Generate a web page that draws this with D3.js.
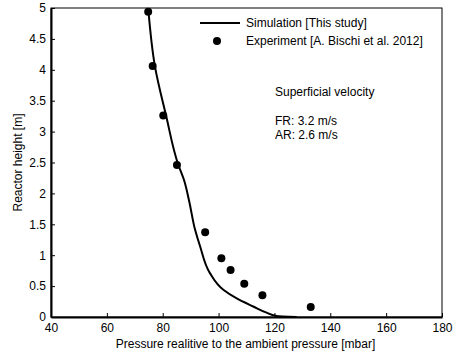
<!DOCTYPE html>
<html>
<head>
<meta charset="utf-8">
<script src="https://cdn.jsdelivr.net/npm/d3@7"></script>
<style>
  body { margin: 0; background: #fff; }
  text { font-family: "Liberation Sans", Arial, sans-serif; fill: #000; }
</style>
</head>
<body>
<div id="chart"></div>
<script>
// simulation curve (pressure [mbar], height [m])
var simPressure = [74.8, 77.2, 81.2, 85.6, 87.6, 89.4, 91.6, 93.4, 96.9, 101.7, 106.5, 112.4, 117.2, 120.8, 128.0];
var simHeight   = [5.0, 4.06, 3.26, 2.46, 2.22, 1.89, 1.41, 1.14, 0.71, 0.44, 0.30, 0.17, 0.07, 0.016, 0.0];

// experiment points
var expPressure = [74.8, 76.4, 80.2, 85.1, 95.2, 101.0, 104.3, 109.2, 115.7, 133.0];
var expHeight   = [4.94, 4.06, 3.26, 2.46, 1.37, 0.95, 0.76, 0.54, 0.35, 0.16];

var xTicks = [40, 60, 80, 100, 120, 140, 160, 180];
var yTicks = [0, 0.5, 1, 1.5, 2, 2.5, 3, 3.5, 4, 4.5, 5];

var svgWidth = 457, svgHeight = 354;
var margin = { top: 8, right: 15, bottom: 37, left: 51 };
var width = svgWidth - margin.left - margin.right;
var height = svgHeight - margin.top - margin.bottom;

var svg = d3.select("#chart").append("svg")
  .attr("width", svgWidth)
  .attr("height", svgHeight);

var plot = svg.append("g")
  .attr("transform", `translate(${margin.left}, ${margin.top})`);

var x = d3.scaleLinear().domain([40, 180]).range([0, width]);
var y = d3.scaleLinear().domain([0, 5]).range([height, 0]);

// box (top/right thin)
plot.append("rect")
  .attr("width", width).attr("height", height)
  .attr("fill", "none").attr("stroke", "#000").attr("stroke-width", 1);

// axes, ticks pointing inward
var xAxis = plot.append("g")
  .attr("transform", `translate(0, ${height})`)
  .call(d3.axisBottom(x).tickValues(xTicks).tickSizeInner(-4).tickSizeOuter(0).tickPadding(6));
var yAxis = plot.append("g")
  .call(d3.axisLeft(y).tickValues(yTicks).tickSizeInner(-4).tickSizeOuter(0).tickPadding(5)
    .tickFormat(d3.format("")));

[xAxis, yAxis].forEach(function (a) {
  a.select(".domain").attr("stroke", "#000").attr("stroke-width", 2);
  a.selectAll(".tick line").attr("stroke", "#000").attr("stroke-width", 1);
  a.selectAll(".tick text")
    .attr("font-size", 12)
    .attr("font-family", "'Liberation Sans', Arial, sans-serif")
    .attr("fill", "#000");
});

// simulation line
var simData = simPressure.map(function (p, i) { return [p, simHeight[i]]; });
var line = d3.line().x(d => x(d[0])).y(d => y(d[1])).curve(d3.curveMonotoneY);
plot.append("path")
  .datum(simData)
  .attr("d", line)
  .attr("fill", "none")
  .attr("stroke", "#000")
  .attr("stroke-width", 2);

// experiment points
var expData = expPressure.map(function (p, i) { return [p, expHeight[i]]; });
plot.selectAll("circle.exp")
  .data(expData)
  .enter()
  .append("circle")
  .attr("class", "exp")
  .attr("cx", d => x(d[0]))
  .attr("cy", d => y(d[1]))
  .attr("r", 4)
  .attr("fill", "#000");

// legend
var legend = svg.append("g");
legend.append("line")
  .attr("x1", 200).attr("x2", 240).attr("y1", 23).attr("y2", 23)
  .attr("stroke", "#000").attr("stroke-width", 2);
legend.append("circle")
  .attr("cx", 217).attr("cy", 41).attr("r", 4).attr("fill", "#000");
legend.append("text").attr("x", 246).attr("y", 27).attr("font-size", 12)
  .text("Simulation [This study]");
legend.append("text").attr("x", 246).attr("y", 45).attr("font-size", 12)
  .text("Experiment [A. Bischi et al. 2012]");

// annotation
var note = svg.append("g").attr("font-size", 12);
note.append("text").attr("x", 275).attr("y", 96).text("Superficial velocity");
note.append("text").attr("x", 275).attr("y", 125).text("FR: 3.2 m/s");
note.append("text").attr("x", 275).attr("y", 139).text("AR: 2.6 m/s");

// axis titles
svg.append("text")
  .attr("x", margin.left + width / 2 - 1)
  .attr("y", 348)
  .attr("text-anchor", "middle")
  .attr("font-size", 12)
  .text("Pressure realitive to the ambient pressure [mbar]");

svg.append("text")
  .attr("transform", `translate(22, ${margin.top + height / 2}) rotate(-90)`)
  .attr("text-anchor", "middle")
  .attr("font-size", 12)
  .text("Reactor height [m]");
</script>
</body>
</html>
